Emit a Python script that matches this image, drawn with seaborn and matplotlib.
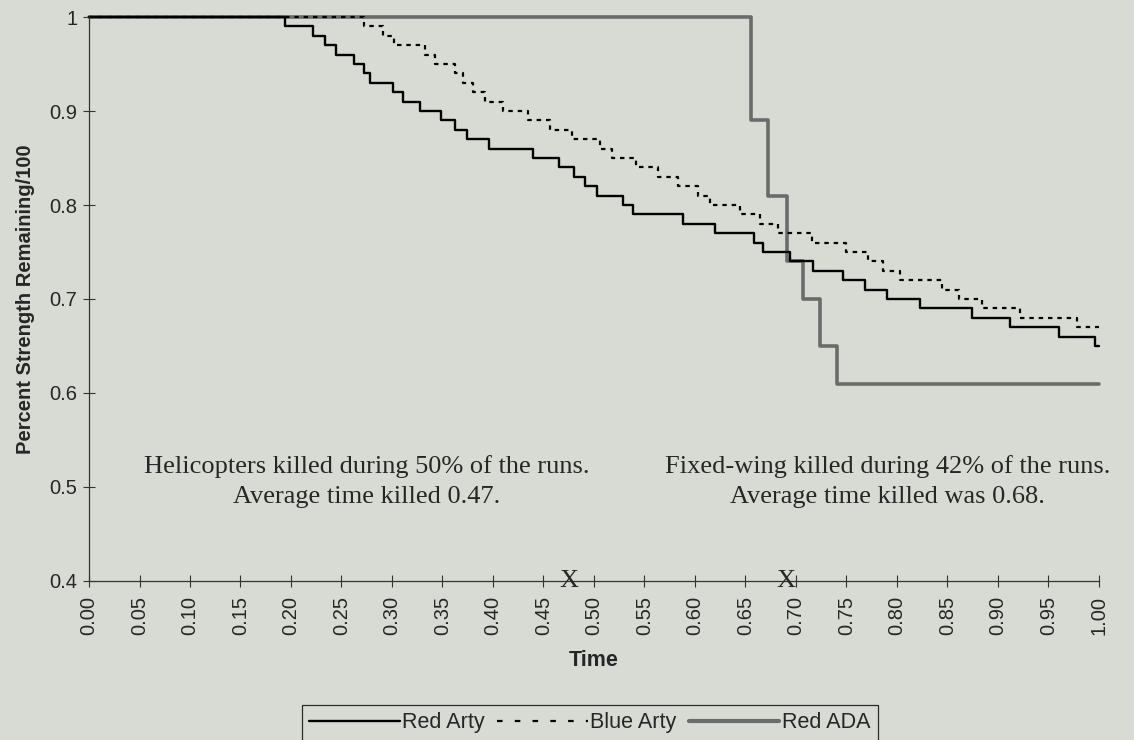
import pandas as pd
import seaborn as sns
import matplotlib.pyplot as plt
from matplotlib.lines import Line2D
from matplotlib.ticker import FuncFormatter, MultipleLocator

# step change times (fraction of run) and strength after each change
red_arty_t = [0.0, 0.194, 0.222, 0.234, 0.245, 0.262, 0.272, 0.278, 0.301, 0.311,
              0.328, 0.349, 0.362, 0.374, 0.396, 0.440, 0.465, 0.480, 0.491, 0.503,
              0.529, 0.539, 0.588, 0.620, 0.659, 0.667, 0.694, 0.717, 0.747, 0.768,
              0.790, 0.823, 0.874, 0.912, 0.961, 0.996]
red_arty_v = [1.00, 0.99, 0.98, 0.97, 0.96, 0.95, 0.94, 0.93, 0.92, 0.91,
              0.90, 0.89, 0.88, 0.87, 0.86, 0.85, 0.84, 0.83, 0.82, 0.81,
              0.80, 0.79, 0.78, 0.77, 0.76, 0.75, 0.74, 0.73, 0.72, 0.71,
              0.70, 0.69, 0.68, 0.67, 0.66, 0.65]

blue_arty_t = [0.0, 0.272, 0.291, 0.302, 0.333, 0.343, 0.362, 0.370, 0.380, 0.392,
               0.410, 0.435, 0.456, 0.478, 0.506, 0.518, 0.542, 0.563, 0.583, 0.603,
               0.615, 0.645, 0.664, 0.682, 0.716, 0.750, 0.771, 0.786, 0.803, 0.845,
               0.862, 0.884, 0.922, 0.978]
blue_arty_v = [1.00, 0.99, 0.98, 0.97, 0.96, 0.95, 0.94, 0.93, 0.92, 0.91,
               0.90, 0.89, 0.88, 0.87, 0.86, 0.85, 0.84, 0.83, 0.82, 0.81,
               0.80, 0.79, 0.78, 0.77, 0.76, 0.75, 0.74, 0.73, 0.72, 0.71,
               0.70, 0.69, 0.68, 0.67]

red_ada_t = [0.0, 0.656, 0.672, 0.691, 0.707, 0.724, 0.741]
red_ada_v = [1.00, 0.89, 0.81, 0.74, 0.70, 0.65, 0.61]

kill_times = [0.475, 0.69]
notes = ["Helicopters killed during 50% of the runs.\nAverage time killed 0.47.",
         "Fixed-wing killed during 42% of the runs.\nAverage time killed was 0.68."]
note_x = [0.275, 0.791]
note_y = [0.506, 0.506]

BG = "#d8dad4"
ADA_GREY = "#6b6b6b"
SERIF = ["Liberation Serif", "DejaVu Serif"]


def to_frame(t, v):
    # hold last value to the end of the run
    return pd.DataFrame({"time": t + [1.0], "strength": v + [v[-1]]})


sns.set_style("ticks")
plt.rcParams["font.family"] = ["Liberation Sans", "DejaVu Sans"]

fig = plt.figure(figsize=(11.34, 7.4), dpi=100, facecolor=BG)
ax = fig.add_axes([0.0785, 0.2149, 0.8905, 0.7621])
ax.set_facecolor(BG)

series = [
    (to_frame(red_ada_t, red_ada_v), dict(color=ADA_GREY, lw=2.6, linestyle="-")),
    (to_frame(blue_arty_t, blue_arty_v), dict(color="black", lw=1.6, linestyle=(0, (2, 2.2)))),
    (to_frame(red_arty_t, red_arty_v), dict(color="black", lw=1.7, linestyle="-")),
]
for df, style in series:
    sns.lineplot(data=df, x="time", y="strength", estimator=None, sort=False,
                 drawstyle="steps-post", ax=ax, clip_on=False, **style)

ax.set_xlim(0, 1)
ax.set_ylim(0.4, 1.0)
ax.xaxis.set_major_locator(MultipleLocator(0.05))
ax.yaxis.set_major_locator(MultipleLocator(0.1))
ax.xaxis.set_major_formatter(FuncFormatter(lambda x, p: f"{x:.2f}"))
ax.yaxis.set_major_formatter(FuncFormatter(lambda y, p: f"{y:g}"))
ax.tick_params(axis="both", direction="inout", length=9, width=0.8, color="#333333",
               labelsize=14.5, pad=4)
ax.tick_params(axis="x", rotation=90, pad=6)
ax.spines[["top", "right"]].set_visible(False)
ax.spines[["left", "bottom"]].set_color("#333333")
ax.spines[["left", "bottom"]].set_linewidth(0.9)

ax.set_xlabel("Time", fontsize=15.5, fontweight="bold", labelpad=11)
ax.set_ylabel("Percent Strength Remaining/100", fontsize=14.5, fontweight="bold", labelpad=10)

for x, y, s in zip(note_x, note_y, notes):
    ax.text(x, y, s, ha="center", va="center", family=SERIF, fontsize=19, linespacing=1.45)
for kt in kill_times:
    ax.text(kt, 0.4, "X", ha="center", va="center", family=SERIF, fontsize=19, clip_on=False)

handles = [
    Line2D([], [], color="black", lw=1.7),
    Line2D([], [], color="black", lw=1.6, linestyle=(0, (2.5, 5.5))),
    Line2D([], [], color=ADA_GREY, lw=3.0),
]
leg = fig.legend(handles, ["Red Arty", "Blue Arty", "Red ADA"], loc="upper center",
                 bbox_to_anchor=(0.52, 0.062), ncol=3, fontsize=15.5, frameon=True,
                 fancybox=False, handlelength=4.2, handletextpad=0.1, columnspacing=0.6,
                 borderpad=0.35)
leg.get_frame().set_edgecolor("black")
leg.get_frame().set_linewidth(0.9)
leg.get_frame().set_facecolor(BG)

fig.savefig("out.png", dpi=100, facecolor=BG)
